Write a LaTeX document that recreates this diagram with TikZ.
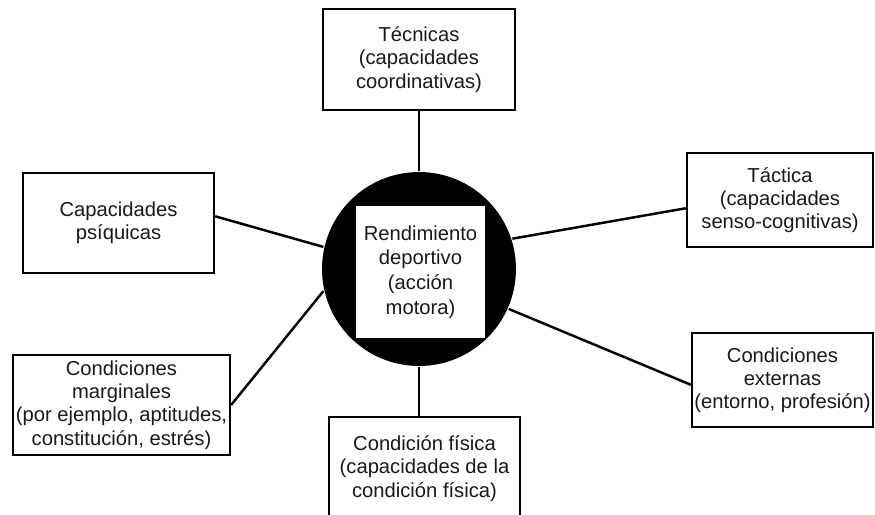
\documentclass[tikz,border=0pt]{standalone}
\usepackage{fontspec}
\setmainfont{Liberation Sans}
\begin{document}
\begin{tikzpicture}[x=0.02cm,y=-0.02cm,line width=1.3pt,
  box/.style={draw,fill=white,align=center,inner sep=0pt,text=black!90,font=\fontsize{11.5}{13.2}\selectfont},
  link/.style={line width=1.4pt}]
  \useasboundingbox (0,0) rectangle (875,514);
  \node[circle,fill=black,minimum size=3.88cm,inner sep=0pt] (circ) at (419,269) {}; %black circle
  \node[box,draw=none,minimum width=2.58cm,minimum height=2.64cm,font=\fontsize{11.5}{14}\selectfont] (rend) at (420.5,272) {Rendimiento\\deportivo\\(acción\\motora)}; %white square in the middle
  \node[box,minimum width=3.84cm,minimum height=2.02cm] (tec) at (419,59.5) {Técnicas\\(capacidades\\coordinativas)}; %top
  \node[box,minimum width=3.82cm,minimum height=2cm] (psi) at (118.5,223) {Capacidades\\psíquicas}; %left
  \node[box,minimum width=3.72cm,minimum height=1.88cm] (tac) at (780,200) {Táctica\\(capacidades\\senso-cognitivas)}; %right
  \node[box,minimum width=4.34cm,minimum height=2cm] (mar) at (121.5,405) {Condiciones\\marginales\\(por ejemplo, aptitudes,\\constitución, estrés)}; %bottom left
  \node[box,minimum width=3.82cm,minimum height=2.06cm] (fis) at (424.5,468.5) {Condición física\\(capacidades de la\\condición física)}; %bottom
  \node[box,minimum width=3.62cm,minimum height=1.88cm] (ext) at (782.5,380) {Condiciones\\externas\\(entorno, profesión)}; %bottom right
  \draw[link] (circ.north) -- (circ.north |- tec.south); %spokes
  \draw[link] (psi.4) -- (circ.167);
  \draw[link] (circ.18) -- (tac.185);
  \draw[link] (mar.east) -- (circ.193);
  \draw[link] (circ.336) -- (ext.183);
  \draw[link] (circ.south) -- (circ.south |- fis.north);
\end{tikzpicture}
\end{document}
